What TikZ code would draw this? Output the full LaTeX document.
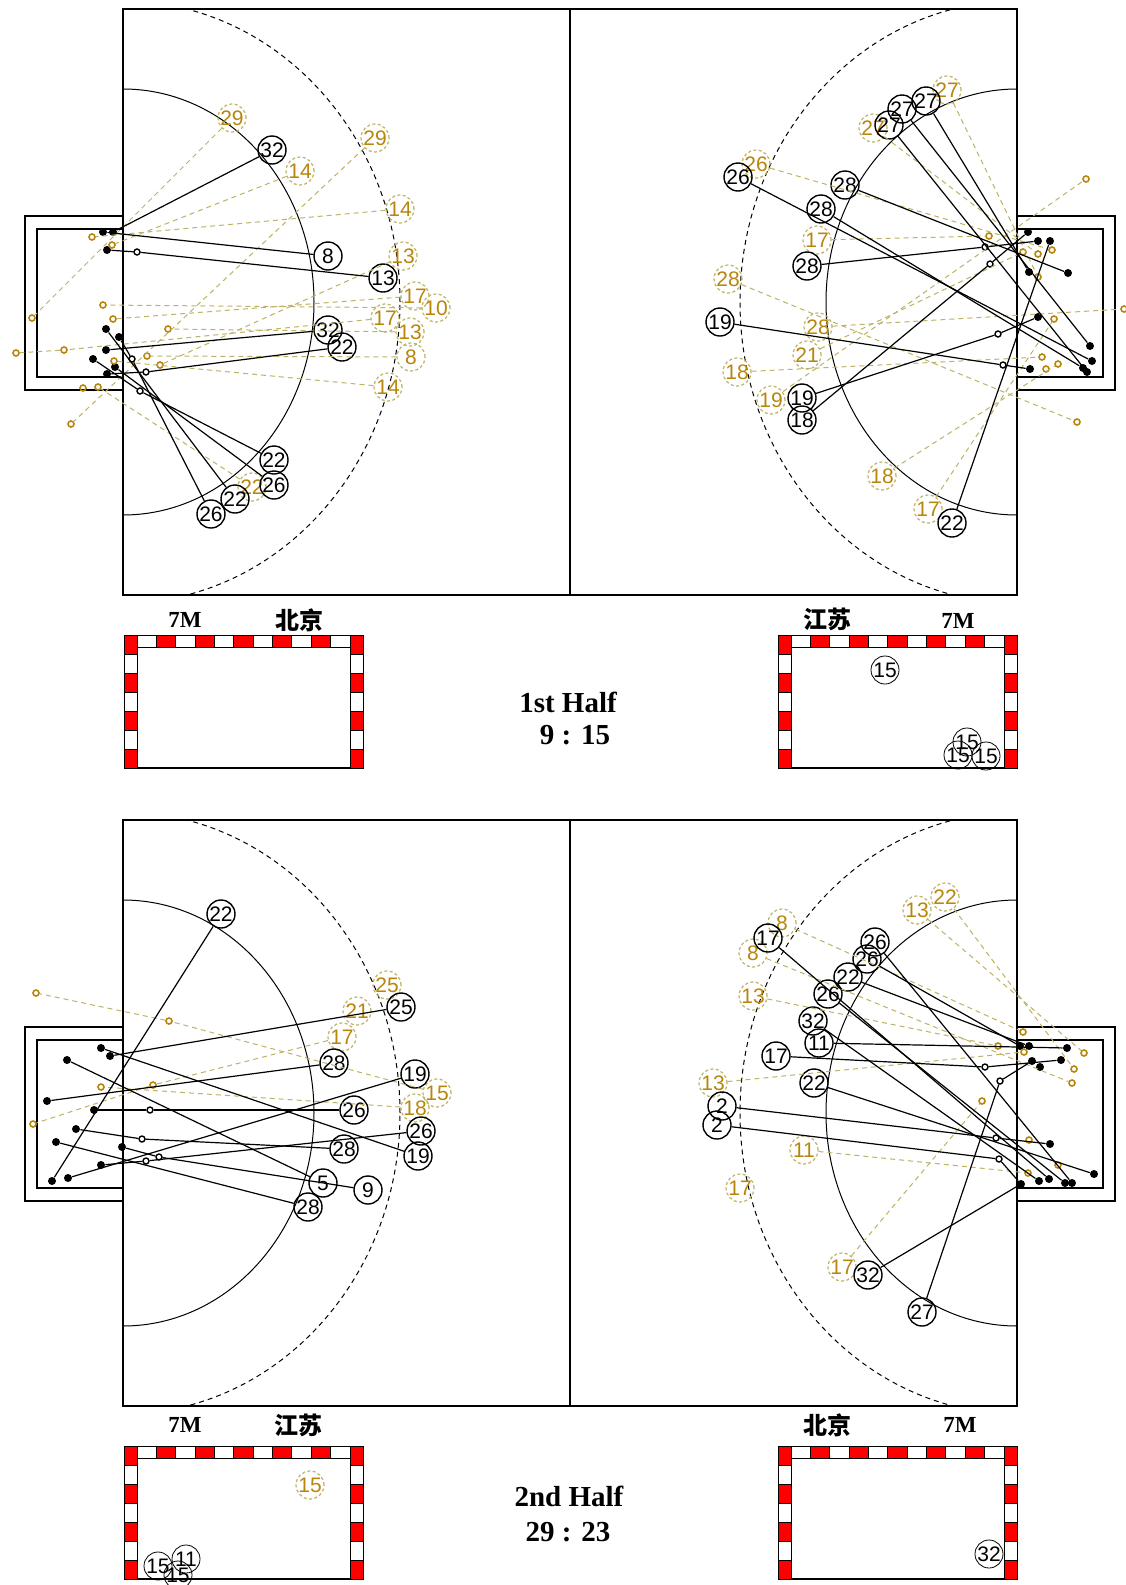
\documentclass[tikz,border=0pt]{standalone}
\usepackage{fontspec}
\setmainfont{Liberation Serif}
\newfontfamily\numf{Liberation Sans}
\newfontfamily\cjkf{Noto Sans CJK SC}
\definecolor{goldtxt}{RGB}{184,134,11}
\definecolor{goldln}{RGB}{190,178,100}
\definecolor{redc}{RGB}{255,0,0}
\tikzset{
 bn/.style={circle,draw=black,line width=0.7pt,minimum size=14pt,inner sep=0pt,font=\numf\fontsize{10.5}{10.5}\selectfont},
 gn/.style={circle,draw=goldln,dash pattern=on 1.5pt off 1.2pt,line width=0.6pt,minimum size=14pt,inner sep=0pt,text=goldtxt,font=\numf\fontsize{10.5}{10.5}\selectfont},
 pn/.style={bn,line width=0.4pt},
 bd/.style={circle,fill=black,minimum size=4pt,inner sep=0pt},
 bh/.style={circle,draw=black,line width=0.7pt,fill=white,minimum size=3pt,inner sep=0pt},
 gh/.style={circle,draw=goldtxt,line width=0.8pt,minimum size=3pt,inner sep=0pt},
 bl/.style={line width=0.6pt},
 gl/.style={draw=goldln,line width=0.5pt,dash pattern=on 2.5pt off 2pt},
 thin line/.style={line width=0.5pt},
 cellw/.style={draw=black,line width=0.5pt,fill=white},
 cellr/.style={draw=black,line width=0.5pt,fill=redc},
 lab/.style={font=\bfseries\fontsize{11.5}{12}\selectfont},
 labc/.style={font=\cjkf\bfseries\fontsize{12}{12}\selectfont},
 title/.style={font=\bfseries\fontsize{14.5}{17}\selectfont}
}
\newcommand\courtdraw[1]{%
 \begin{scope}
  \clip (123,{9+#1}) rectangle (1017,{595+#1});
  \draw[thin line] (123,{302+#1}) ellipse [x radius=95.5pt,y radius=106.5pt];
  \draw[thin line] (1017,{302+#1}) ellipse [x radius=95.5pt,y radius=106.5pt];
  \draw[thin line,dash pattern=on 2.5pt off 2pt] (123,{302+#1}) ellipse [x radius=138.5pt,y radius=150.5pt];
  \draw[thin line,dash pattern=on 2.5pt off 2pt] (1017,{302+#1}) ellipse [x radius=138.5pt,y radius=150.5pt];
 \end{scope}
 \draw[line width=0.6pt] (570,{9+#1}) -- (570,{595+#1});
 \draw[line width=0.6pt] (123,{216+#1}) -- (25,{216+#1}) -- (25,{390+#1}) -- (123,{390+#1});
 \draw[line width=0.6pt] (123,{229+#1}) -- (37,{229+#1}) -- (37,{377+#1}) -- (123,{377+#1});
 \draw[line width=0.6pt] (1017,{216+#1}) -- (1115,{216+#1}) -- (1115,{390+#1}) -- (1017,{390+#1});
 \draw[line width=0.6pt] (1017,{229+#1}) -- (1103,{229+#1}) -- (1103,{377+#1}) -- (1017,{377+#1});
 \draw[line width=1.1pt] (123,{9+#1}) rectangle (1017,{595+#1});
}
\newcommand\goalpanel[2]{%
 \foreach \i in {0,2,...,10} {\draw[cellw] ({#1+13+\i*19.364},#2) rectangle ({#1+13+(\i+1)*19.364},{#2+12});}
 \foreach \i in {1,3,...,9} {\draw[cellr] ({#1+13+\i*19.364},#2) rectangle ({#1+13+(\i+1)*19.364},{#2+12});}
 \foreach \j in {0,2,4,6} {\draw[cellr] (#1,{#2+\j*19}) rectangle ({#1+13},{#2+(\j+1)*19});
   \draw[cellr] ({#1+226},{#2+\j*19}) rectangle ({#1+239},{#2+(\j+1)*19});}
 \foreach \j in {1,3,5} {\draw[cellw] (#1,{#2+\j*19}) rectangle ({#1+13},{#2+(\j+1)*19});
   \draw[cellw] ({#1+226},{#2+\j*19}) rectangle ({#1+239},{#2+(\j+1)*19});}
 \draw[line width=0.6pt] ({#1+13},{#2+133}) -- ({#1+226},{#2+133});
}
\begin{document}
\begin{tikzpicture}[x=0.5pt,y=-0.5pt]
\useasboundingbox[fill=white] (0,0) rectangle (1125,1585);
\courtdraw{0}
\courtdraw{811}
\goalpanel{124}{635}
\goalpanel{778}{635}
\goalpanel{124}{1446}
\goalpanel{778}{1446}
% labels
\node[lab] (t7a) at (185,620) {7M};
\node[labc] (tbj) at (299,620) {北京};
\node[labc] (tjs) at (827,619) {江苏};
\node[lab] (t7b) at (958,621) {7M};
\node[lab] (b7a) at (185,1425) {7M};
\node[labc] (bjs) at (298,1425) {江苏};
\node[labc] (bbj) at (827,1425) {北京};
\node[lab] (b7b) at (960,1425) {7M};
\node[title] (h1) at (568,702) {1st Half};
\node[title] (s1) at (575,735) {9 : 15};
\node[title] (h2) at (569,1496) {2nd Half};
\node[title] (s2) at (568,1532) {29 : 23};
% panels circles
\node[pn] (P1) at (885,670) {15};
\node[pn] (P2) at (967,742) {15};
\node[pn] (P3) at (958,755) {15};
\node[pn] (P4) at (986,756) {15};
\node[gn] (P5) at (310,1485) {15};
\node[pn] (P6) at (158,1566) {15};
\node[pn] (P7) at (186,1559) {11};
\node[pn] (P8) at (178,1575) {15};
\node[pn] (P9) at (989,1554) {32};
%% ===== top-left =====
\node[gn] (Ag1) at (232,118) {29};
\node[gn] (Ag2) at (300,171) {14};
\node[gn] (Ag3) at (375,138) {29};
\node[gn] (Ag4) at (400,209) {14};
\node[gn] (Ag5) at (403,256) {13};
\node[gn] (Ag6) at (415,296) {17};
\node[gn] (Ag7) at (436,308) {10};
\node[gn] (Ag8) at (385,318) {17};
\node[gn] (Ag9) at (410,332) {13};
\node[gn] (Ag10) at (411,357) {8};
\node[gn] (Ag11) at (388,387) {14};
\node[gn] (Ag12) at (252,487) {22};
\node[bn] (A1) at (272,150) {32};
\node[bn] (A2) at (328,256) {8};
\node[bn] (A3) at (383,278) {13};
\node[bn] (A4) at (328,330) {32};
\node[bn] (A5) at (342,347) {22};
\node[bn] (A6) at (274,460) {22};
\node[bn] (A7) at (274,485) {26};
\node[bn] (A8) at (235,499) {22};
\node[bn] (A9) at (211,514) {26};
\node[bd] (Ad1) at (103,232) {};
\node[bd] (Ad2) at (113,232) {};
\node[bd] (Ad3) at (107,250) {};
\node[bd] (Ad4) at (106,329) {};
\node[bd] (Ad5) at (119,337) {};
\node[bd] (Ad6) at (106,350) {};
\node[bd] (Ad7) at (93,359) {};
\node[bd] (Ad8) at (115,367) {};
\node[bd] (Ad9) at (107,374) {};
\node[bh] (Ah1) at (137,252) {};
\node[bh] (Ah2) at (132,359) {};
\node[bh] (Ah3) at (146,372) {};
\node[bh] (Ah4) at (140,391) {};
\node[gh] (Ao1) at (92,237) {};
\node[gh] (Ao2) at (112,245) {};
\node[gh] (Ao3) at (32,318) {};
\node[gh] (Ao4) at (103,305) {};
\node[gh] (Ao5) at (113,319) {};
\node[gh] (Ao6) at (168,329) {};
\node[gh] (Ao7) at (16,353) {};
\node[gh] (Ao8) at (64,350) {};
\node[gh] (Ao9) at (147,356) {};
\node[gh] (Ao10) at (160,365) {};
\node[gh] (Ao11) at (114,361) {};
\node[gh] (Ao12) at (83,388) {};
\node[gh] (Ao13) at (98,387) {};
\node[gh] (Ao14) at (71,424) {};
\draw[gl] (Ag1) -- (Ao3);
\draw[gl] (Ag2) -- (Ao2);
\draw[gl] (Ag3) -- (Ao14);
\draw[gl] (Ag4) -- (Ao1);
\draw[gl] (Ag5) -- (Ao10);
\draw[gl] (Ag6) -- (Ao5);
\draw[gl] (Ag7) -- (Ao4);
\draw[gl] (Ag8) -- (Ao8) -- (Ao7);
\draw[gl] (Ag9) -- (Ao6);
\draw[gl] (Ag10) -- (Ao9);
\draw[gl] (Ag11) -- (Ao11);
\draw[gl] (Ag12) -- (Ao13);
\draw[bl] (A1) -- (Ad2);
\draw[bl] (A2) -- (Ad1);
\draw[bl] (A3) -- (Ah1) -- (Ad3);
\draw[bl] (A4) -- (Ad6);
\draw[bl] (A5) -- (Ah3) -- (Ad9);
\draw[bl] (A6) -- (Ah4) -- (Ad7);
\draw[bl] (A7) -- (Ad8);
\draw[bl] (A8) -- (Ad4);
\draw[bl] (A9) -- (Ah2) -- (Ad5);
%% ===== top-right =====
\node[gn] (Bg1) at (947,90) {27};
\node[gn] (Bg2) at (873,128) {27};
\node[gn] (Bg3) at (756,164) {26};
\node[gn] (Bg4) at (817,240) {17};
\node[gn] (Bg5) at (728,279) {28};
\node[gn] (Bg6) at (818,327) {28};
\node[gn] (Bg7) at (807,355) {21};
\node[gn] (Bg8) at (737,372) {18};
\node[gn] (Bg9) at (771,400) {19};
\node[gn] (Bg10) at (882,476) {18};
\node[gn] (Bg11) at (928,509) {17};
\node[bn] (B1) at (926,101) {27};
\node[bn] (B2) at (902,109) {27};
\node[bn] (B3) at (889,125) {27};
\node[bn] (B4) at (738,177) {26};
\node[bn] (B5) at (845,185) {28};
\node[bn] (B6) at (821,209) {28};
\node[bn] (B7) at (807,266) {28};
\node[bn] (B8) at (720,322) {19};
\node[bn] (B9) at (802,398) {19};
\node[bn] (B10) at (802,420) {18};
\node[bn] (B11) at (952,523) {22};
\node[bd] (Bd1) at (1028,232) {};
\node[bd] (Bd2) at (1038,241) {};
\node[bd] (Bd3) at (1050,241) {};
\node[bd] (Bd4) at (1068,273) {};
\node[bd] (Bd5) at (1029,272) {};
\node[bd] (Bd6) at (1038,317) {};
\node[bd] (Bd7) at (1090,346) {};
\node[bd] (Bd8) at (1092,361) {};
\node[bd] (Bd9) at (1083,368) {};
\node[bd] (Bd10) at (1087,372) {};
\node[bd] (Bd11) at (1030,369) {};
\node[bh] (Bh1) at (985,247) {};
\node[bh] (Bh2) at (990,264) {};
\node[bh] (Bh3) at (998,334) {};
\node[bh] (Bh4) at (1003,365) {};
\node[gh] (Bo1) at (1086,179) {};
\node[gh] (Bo2) at (989,236) {};
\node[gh] (Bo3) at (1023,252) {};
\node[gh] (Bo4) at (1038,254) {};
\node[gh] (Bo5) at (1052,250) {};
\node[gh] (Bo6) at (1038,277) {};
\node[gh] (Bo7) at (1124,309) {};
\node[gh] (Bo8) at (1054,319) {};
\node[gh] (Bo9) at (1042,357) {};
\node[gh] (Bo10) at (1058,364) {};
\node[gh] (Bo11) at (1046,369) {};
\node[gh] (Bo12) at (1077,422) {};
\draw[gl] (Bg1) -- (Bo6);
\draw[gl] (Bg2) -- (Bo4);
\draw[gl] (Bg3) -- (Bo5);
\draw[gl] (Bg4) -- (Bo2);
\draw[gl] (Bg5) -- (Bo12);
\draw[gl] (Bg6) -- (Bo7);
\draw[gl] (Bg7) -- (Bo3);
\draw[gl] (Bg8) -- (Bo9);
\draw[gl] (Bg9) -- (Bo1);
\draw[gl] (Bg10) -- (Bo10);
\draw[gl] (Bg11) -- (Bo8);
\draw[bl] (B1) -- (Bd5);
\draw[bl] (B2) -- (Bd7);
\draw[bl] (B3) -- (Bd10);
\draw[bl] (B4) -- (Bd8);
\draw[bl] (B5) -- (Bd4);
\draw[bl] (B6) -- (Bd9);
\draw[bl] (B7) -- (Bh1) -- (Bd2);
\draw[bl] (B8) -- (Bh4) -- (Bd11);
\draw[bl] (B9) -- (Bh3) -- (Bd6);
\draw[bl] (B10) -- (Bh2) -- (Bd1);
\draw[bl] (B11) -- (Bd3);
%% ===== bottom-left =====
\node[gn] (Cg1) at (387,985) {25};
\node[gn] (Cg2) at (357,1011) {21};
\node[gn] (Cg3) at (342,1037) {17};
\node[gn] (Cg4) at (437,1093) {15};
\node[gn] (Cg5) at (415,1108) {18};
\node[bn] (C1) at (221,914) {22};
\node[bn] (C2) at (401,1007) {25};
\node[bn] (C3) at (334,1063) {28};
\node[bn] (C4) at (415,1074) {19};
\node[bn] (C5) at (354,1110) {26};
\node[bn] (C6) at (421,1131) {26};
\node[bn] (C7) at (344,1149) {28};
\node[bn] (C8) at (418,1156) {19};
\node[bn] (C9) at (323,1183) {5};
\node[bn] (C10) at (368,1190) {9};
\node[bn] (C11) at (308,1207) {28};
\node[bd] (Cd1) at (101,1048) {};
\node[bd] (Cd2) at (110,1056) {};
\node[bd] (Cd3) at (67,1060) {};
\node[bd] (Cd4) at (47,1101) {};
\node[bd] (Cd5) at (94,1110) {};
\node[bd] (Cd6) at (76,1129) {};
\node[bd] (Cd7) at (56,1142) {};
\node[bd] (Cd8) at (122,1147) {};
\node[bd] (Cd9) at (101,1165) {};
\node[bd] (Cd10) at (68,1178) {};
\node[bd] (Cd11) at (52,1181) {};
\node[bh] (Ch1) at (150,1110) {};
\node[bh] (Ch2) at (142,1139) {};
\node[bh] (Ch3) at (146,1161) {};
\node[bh] (Ch4) at (159,1157) {};
\node[gh] (Co1) at (36,993) {};
\node[gh] (Co2) at (169,1021) {};
\node[gh] (Co3) at (101,1087) {};
\node[gh] (Co4) at (153,1085) {};
\node[gh] (Co5) at (33,1124) {};
\draw[gl] (Cg4) -- (Co2) -- (Co1);
\draw[gl] (Cg3) -- (Co4) -- (Co5);
\draw[gl] (Cg5) -- (Co3);
\draw[bl] (C1) -- (Cd11);
\draw[bl] (C2) -- (Cd2);
\draw[bl] (C3) -- (Cd4);
\draw[bl] (C4) -- (Cd10);
\draw[bl] (C5) -- (Ch1) -- (Cd5);
\draw[bl] (C6) -- (Ch3) -- (Cd9);
\draw[bl] (C7) -- (Ch2) -- (Cd6);
\draw[bl] (C8) -- (Cd1);
\draw[bl] (C9) -- (Cd3);
\draw[bl] (C10) -- (Ch4) -- (Cd8);
\draw[bl] (C11) -- (Cd7);
%% ===== bottom-right =====
\node[gn] (Dg1) at (917,910) {13};
\node[gn] (Dg2) at (945,897) {22};
\node[gn] (Dg3) at (782,923) {8};
\node[gn] (Dg4) at (753,953) {8};
\node[gn] (Dg5) at (753,996) {13};
\node[gn] (Dg6) at (713,1083) {13};
\node[gn] (Dg7) at (804,1150) {11};
\node[gn] (Dg8) at (740,1188) {17};
\node[gn] (Dg9) at (842,1267) {17};
\node[bn] (D1) at (768,938) {17};
\node[bn] (D2) at (875,942) {26};
\node[bn] (D3) at (867,959) {26};
\node[bn] (D4) at (848,977) {22};
\node[bn] (D5) at (828,994) {26};
\node[bn] (D6) at (813,1021) {32};
\node[bn] (D7) at (819,1043) {11};
\node[bn] (D8) at (776,1056) {17};
\node[bn] (D9) at (814,1083) {22};
\node[bn] (D10) at (722,1106) {2};
\node[bn] (D11) at (717,1125) {2};
\node[bn] (D12) at (868,1275) {32};
\node[bn] (D13) at (922,1312) {27};
\node[bd] (Dd1) at (1020,1046) {};
\node[bd] (Dd2) at (1029,1046) {};
\node[bd] (Dd3) at (1067,1048) {};
\node[bd] (Dd4) at (1032,1061) {};
\node[bd] (Dd5) at (1040,1067) {};
\node[bd] (Dd6) at (1061,1060) {};
\node[bd] (Dd7) at (1050,1144) {};
\node[bd] (Dd8) at (1094,1174) {};
\node[bd] (Dd9) at (1021,1184) {};
\node[bd] (Dd10) at (1039,1181) {};
\node[bd] (Dd11) at (1049,1179) {};
\node[bd] (Dd12) at (1065,1183) {};
\node[bd] (Dd13) at (1072,1183) {};
\node[bh] (Dh1) at (985,1067) {};
\node[bh] (Dh2) at (1000,1081) {};
\node[bh] (Dh3) at (996,1138) {};
\node[bh] (Dh4) at (999,1159) {};
\node[gh] (Do1) at (1023,1032) {};
\node[gh] (Do2) at (998,1046) {};
\node[gh] (Do3) at (1024,1052) {};
\node[gh] (Do4) at (1084,1053) {};
\node[gh] (Do5) at (1074,1069) {};
\node[gh] (Do6) at (1072,1083) {};
\node[gh] (Do7) at (982,1101) {};
\node[gh] (Do8) at (1029,1140) {};
\node[gh] (Do9) at (1058,1165) {};
\node[gh] (Do10) at (1028,1173) {};
\draw[gl] (Dg1) -- (Do4);
\draw[gl] (Dg2) -- (Do5);
\draw[gl] (Dg3) -- (Do1);
\draw[gl] (Dg4) -- (Do6);
\draw[gl] (Dg5) -- (Do2);
\draw[gl] (Dg6) -- (Do3);
\draw[gl] (Dg7) -- (Do10);
\draw[gl] (Dg9) -- (Do7);
\draw[bl] (D1) -- (Dd11);
\draw[bl] (D2) -- (Dd13);
\draw[bl] (D3) -- (Dd1);
\draw[bl] (D4) -- (Dd2);
\draw[bl] (D5) -- (Dd12);
\draw[bl] (D6) -- (Dd10);
\draw[bl] (D7) -- (Dd3);
\draw[bl] (D8) -- (Dh1) -- (Dd6);
\draw[bl] (D9) -- (Dd8);
\draw[bl] (D10) -- (Dh3) -- (Dd7);
\draw[bl] (D11) -- (Dh4) -- (Dd9);
\draw[bl] (D12) -- (Dd9);
\draw[bl] (D13) -- (Dh2) -- (Dd4);
\end{tikzpicture}
\end{document}
